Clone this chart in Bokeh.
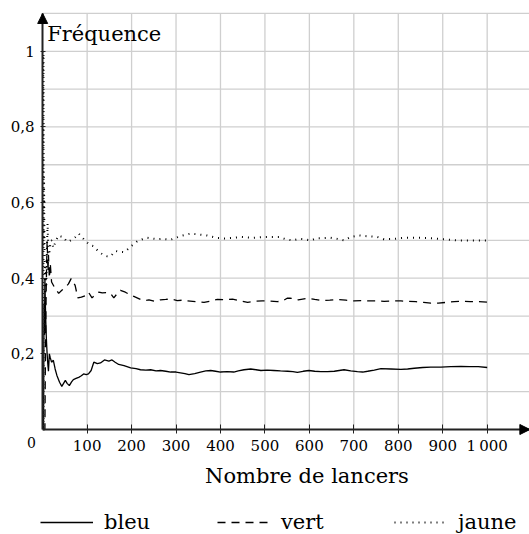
from bokeh.plotting import figure
from bokeh.models import (Range1d, FixedTicker, Arrow, NormalHead, Label,
                          Legend, LegendItem)
from bokeh.embed import file_html
from bokeh.resources import INLINE

# ---------------- data ----------------
bleu_n = [1, 2, 3, 4, 5, 6, 7, 8, 9, 10, 11, 12, 13, 15, 17, 20, 24, 28, 32, 38, 43, 47, 51,
          55, 60, 65, 69, 75, 81, 87, 92, 98, 103, 109, 115, 123, 130, 139, 149, 156, 163,
          171, 183, 198, 210, 220, 232, 243, 255, 265, 277, 288, 300, 310, 320, 329, 342,
          355, 367, 378, 389, 400, 415, 430, 440, 453, 468, 480, 491, 505, 520, 535, 551,
          563, 573, 586, 599, 612, 626, 641, 656, 667, 678, 693, 708, 720, 731, 746, 761,
          783, 806, 821, 836, 855, 873, 896, 918, 941, 960, 980, 1000]
bleu_f = [0.0, 0.0, 0.333, 0.25, 0.4, 0.333, 0.286, 0.25, 0.222, 0.2, 0.182, 0.167, 0.154,
          0.2, 0.19, 0.178, 0.183, 0.16, 0.143, 0.125, 0.114, 0.122, 0.13, 0.122, 0.116,
          0.126, 0.132, 0.135, 0.138, 0.142, 0.147, 0.145, 0.147, 0.156, 0.178, 0.174,
          0.176, 0.184, 0.181, 0.184, 0.178, 0.172, 0.169, 0.163, 0.161, 0.158, 0.157,
          0.158, 0.155, 0.156, 0.154, 0.152, 0.152, 0.150, 0.148, 0.145, 0.148, 0.152,
          0.155, 0.156, 0.154, 0.152, 0.153, 0.152, 0.155, 0.158, 0.160, 0.158, 0.156,
          0.157, 0.156, 0.155, 0.154, 0.153, 0.151, 0.154, 0.156, 0.154, 0.153, 0.153,
          0.154, 0.156, 0.158, 0.155, 0.153, 0.152, 0.154, 0.157, 0.161, 0.160, 0.159,
          0.160, 0.162, 0.164, 0.165, 0.165, 0.166, 0.167, 0.166, 0.166, 0.164]

vert_n = [1, 2, 3, 4, 5, 6, 7, 8, 9, 10, 11, 12, 13, 14, 15, 17, 20, 28, 36, 43, 51, 58, 64,
          73, 79, 87, 96, 103, 111, 118, 126, 134, 145, 153, 160, 168, 175, 186, 195, 205,
          220, 230, 239, 252, 265, 277, 288, 303, 315, 325, 345, 363, 380, 393, 410, 427,
          445, 461, 478, 494, 510, 528, 540, 550, 558, 575, 596, 612, 629, 646, 663, 682,
          701, 716, 735, 752, 768, 787, 806, 823, 840, 857, 873, 890, 907, 926, 945, 962,
          979, 1000]
vert_f = [0.0, 0.0, 0.0, 0.0, 0.0, 0.167, 0.286, 0.375, 0.444, 0.5, 0.455, 0.417, 0.462,
          0.429, 0.4, 0.44, 0.39, 0.373, 0.36, 0.368, 0.376, 0.385, 0.399, 0.381, 0.348,
          0.35, 0.354, 0.363, 0.348, 0.356, 0.363, 0.361, 0.362, 0.359, 0.348, 0.36, 0.368,
          0.363, 0.357, 0.352, 0.344, 0.341, 0.343, 0.339, 0.343, 0.344, 0.345, 0.341,
          0.342, 0.340, 0.338, 0.336, 0.340, 0.344, 0.343, 0.345, 0.340, 0.336, 0.339,
          0.340, 0.340, 0.338, 0.340, 0.347, 0.347, 0.343, 0.347, 0.344, 0.341, 0.342,
          0.344, 0.342, 0.340, 0.341, 0.340, 0.340, 0.339, 0.340, 0.340, 0.339, 0.338,
          0.336, 0.334, 0.334, 0.336, 0.338, 0.339, 0.338, 0.338, 0.337]

jaune_n = [1, 2, 3, 4, 5, 6, 7, 8, 9, 10, 11, 12, 13, 15, 18, 20, 24, 30, 36, 42, 47, 52, 58,
           63, 69, 75, 81, 88, 95, 103, 108, 114, 123, 130, 138, 145, 153, 158, 164, 172,
           183, 190, 198, 205, 213, 224, 235, 246, 258, 270, 288, 300, 314, 333, 348, 370,
           389, 408, 430, 446, 460, 475, 498, 515, 532, 547, 562, 577, 590, 603, 618, 633,
           648, 663, 678, 693, 712, 731, 753, 768, 791, 813, 843, 873, 903, 934, 963, 1000]
jaune_f = [1.0, 0.5, 0.667, 0.5, 0.4, 0.333, 0.429, 0.375, 0.444, 0.5, 0.545, 0.5, 0.462,
           0.467, 0.5, 0.5, 0.48, 0.5, 0.513, 0.51, 0.509, 0.5, 0.496, 0.5, 0.504, 0.51,
           0.518, 0.509, 0.5, 0.491, 0.487, 0.485, 0.474, 0.467, 0.460, 0.458, 0.458, 0.465,
           0.472, 0.47, 0.469, 0.475, 0.484, 0.49, 0.498, 0.503, 0.507, 0.505, 0.503, 0.504,
           0.502, 0.507, 0.513, 0.518, 0.516, 0.513, 0.507, 0.505, 0.507, 0.509, 0.508,
           0.507, 0.509, 0.509, 0.509, 0.503, 0.5, 0.504, 0.503, 0.5, 0.506, 0.506, 0.507,
           0.504, 0.5, 0.509, 0.513, 0.511, 0.509, 0.503, 0.504, 0.507, 0.507, 0.506, 0.503,
           0.5, 0.5, 0.5]

x_ticks = [100, 200, 300, 400, 500, 600, 700, 800, 900, 1000]
x_tick_labels = ["100", "200", "300", "400", "500", "600", "700", "800", "900", "1\u2009000"]
y_ticks = [0.2, 0.4, 0.6, 0.8, 1.0]
y_tick_labels = ["0,2", "0,4", "0,6", "0,8", "1"]
x_grid = [100, 200, 300, 400, 500, 600, 700, 800, 900, 1000, 1100]
y_grid = [0.1, 0.2, 0.3, 0.4, 0.5, 0.6, 0.7, 0.8, 0.9, 1.0, 1.1]
y_minor = [round(0.01 * i, 2) for i in range(1, 101)]

X_MAX, Y_MAX = 1100, 1.1
FONT = "DejaVu Serif"

# frame covers the whole canvas; data 0 sits at x=42px, y=429px
p = figure(width=529, height=534, output_backend="svg", toolbar_location=None,
           x_range=Range1d(-94.9, 1095.2), y_range=Range1d(-0.2776, 1.1343),
           min_border=0, min_border_left=0, min_border_right=0,
           min_border_top=0, min_border_bottom=0)
p.outline_line_color = None
p.xgrid.visible = False
p.ygrid.visible = False

# grid
p.segment(x0=x_grid, y0=[0] * len(x_grid), x1=x_grid, y1=[Y_MAX] * len(x_grid),
          line_color="#cfcfcf", line_width=1.3)
p.segment(x0=[0] * len(y_grid), y0=y_grid, x1=[X_MAX] * len(y_grid), y1=y_grid,
          line_color="#cfcfcf", line_width=1.3)

# series
r_b = p.line(bleu_n, bleu_f, line_color="black", line_width=1.3)
r_v = p.line(vert_n, vert_f, line_color="black", line_width=1.3, line_dash="8 6")
r_j = p.line(jaune_n, jaune_f, line_color="black", line_width=2, line_dash="1 5")

# axes (drawn through the origin)
xa = p.xaxis[0]
xa.fixed_location = 0
xa.bounds = (0, X_MAX)
xa.ticker = FixedTicker(ticks=x_ticks)
xa.major_label_overrides = {t: s for t, s in zip(x_ticks, x_tick_labels)}
xa.major_tick_in = 5
xa.major_tick_out = 4
xa.minor_tick_line_color = None
xa.axis_line_width = 2
xa.axis_line_color = "#222222"
xa.major_tick_line_color = "#222222"
xa.major_label_text_font = FONT
xa.major_label_text_font_size = "15px"
xa.major_label_text_color = "black"
xa.major_label_standoff = 3

ya = p.yaxis[0]
ya.fixed_location = 0
ya.bounds = (0, Y_MAX)
ya.ticker = FixedTicker(ticks=y_ticks, minor_ticks=y_minor)
ya.major_label_overrides = {t: s for t, s in zip(y_ticks, y_tick_labels)}
ya.major_tick_in = 3
ya.major_tick_out = 2
ya.minor_tick_in = 2
ya.minor_tick_out = 0
ya.axis_line_width = 2
ya.axis_line_color = "#222222"
ya.major_tick_line_color = "#222222"
ya.minor_tick_line_color = "#222222"
ya.major_label_text_font = FONT
ya.major_label_text_font_size = "15px"
ya.major_label_text_color = "black"
ya.major_label_standoff = 6

# arrow heads
p.add_layout(Arrow(end=NormalHead(size=10, fill_color="black", line_color="black"),
                   x_start=0, y_start=1.0, x_end=0, y_end=Y_MAX, line_alpha=0))
p.add_layout(Arrow(end=NormalHead(size=10, fill_color="black", line_color="black"),
                   x_start=1000, y_start=0, x_end=1096, y_end=0, line_alpha=0))

# texts
p.add_layout(Label(x=10, y=1.047, text="Fréquence", text_font=FONT,
                   text_font_size="21px", text_baseline="alphabetic", text_color="black"))
p.add_layout(Label(x=-25.2, y=-0.034, text="0", text_font=FONT, text_font_size="14px",
                   text_align="center", text_baseline="middle", text_color="black"))
p.add_layout(Label(x=594.6, y=-0.124, text="Nombre de lancers", text_font=FONT,
                   text_font_size="21px", text_align="center", text_baseline="alphabetic",
                   text_color="black"))

legend = Legend(items=[LegendItem(label="bleu", renderers=[r_b]),
                       LegendItem(label="vert", renderers=[r_v]),
                       LegendItem(label="jaune", renderers=[r_j])],
                orientation="horizontal", location=(40, 0),
                glyph_width=53, glyph_height=20, label_standoff=11, label_width=100,
                label_height=20, spacing=13, padding=0, margin=0,
                border_line_alpha=0, background_fill_alpha=0,
                label_text_font=FONT, label_text_font_size="21px",
                label_text_color="black")
p.add_layout(legend)

open("out.html", "w").write(file_html(p, INLINE))
